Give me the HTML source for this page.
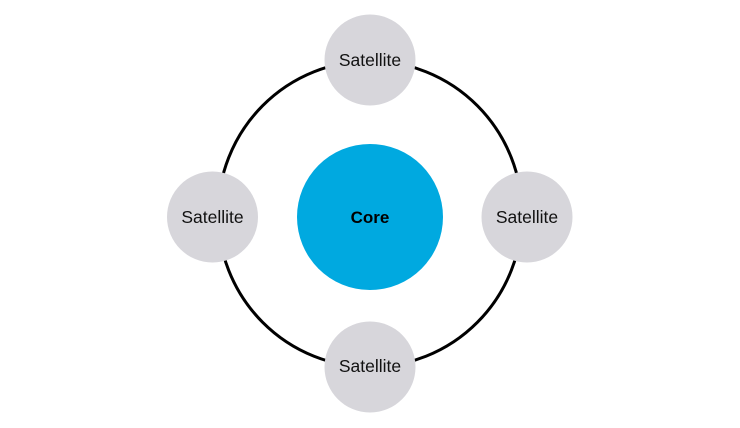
<!DOCTYPE html>
<html><head><meta charset="utf-8"><style>
html,body{margin:0;padding:0;background:#fff;}
svg{display:block;}
text{font-family:"Liberation Sans",sans-serif;}
</style></head><body>
<svg width="740" height="428" viewBox="0 0 740 428" xmlns="http://www.w3.org/2000/svg">
<ellipse cx="370" cy="214" rx="152" ry="153" fill="none" stroke="#000" stroke-width="3"/>
<circle cx="370" cy="217" r="73" fill="#00a9e0"/>
<text x="370" y="223" text-anchor="middle" font-size="17" font-weight="bold" fill="#000">Core</text>
<g fill="#d7d6db">
<circle cx="370" cy="60" r="45.5"/>
<circle cx="212.5" cy="217" r="45.5"/>
<circle cx="527" cy="217" r="45.5"/>
<circle cx="370" cy="367" r="45.5"/>
</g>
<g font-size="17.5" fill="#111" text-anchor="middle">
<text x="370" y="66">Satellite</text>
<text x="212.5" y="223">Satellite</text>
<text x="527" y="223">Satellite</text>
<text x="370" y="372">Satellite</text>
</g>
</svg>
</body></html>
